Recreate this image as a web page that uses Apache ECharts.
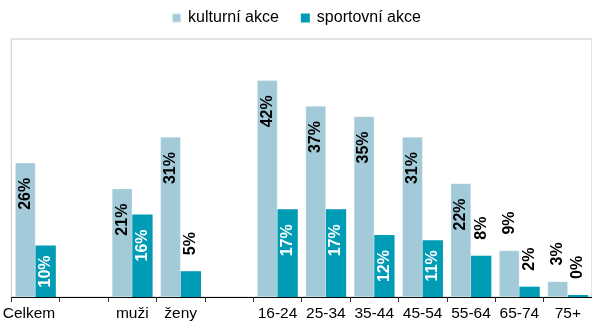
<!DOCTYPE html>
<html>
<head>
<meta charset="utf-8">
<script src="https://cdn.jsdelivr.net/npm/echarts@6/dist/echarts.min.js"></script>
<style>
  html, body { margin: 0; padding: 0; background: #fff; }
  #chart { width: 592px; height: 324px; }
</style>
</head>
<body>
<div id="chart"></div>
<script>
// Categories (empty strings are spacer slots between groups)
const categories = ['Celkem', '', 'muži', 'ženy', '', '16-24', '25-34', '35-44', '45-54', '55-64', '65-74', '75+'];
const seriesNames = ['kulturní akce', 'sportovní akce'];
const kulturni = [26, '-', 21, 31, '-', 42, 37, 35, 31, 22, 9, 3];
const sportovni = [10, '-', 16, 5, '-', 17, 17, 12, 11, 8, 2, 0];

const LIGHT = '#A2CAD8';
const DARK = '#009BB5';
const FONT = 'Liberation Sans, Arial, sans-serif';

// Label placement: short bars get the label above the bar, taller bars inside the top end
function labelFor(v, insideColor) {
  const base = {
    show: true, rotate: 90, fontFamily: FONT, fontWeight: 'bold', fontSize: 16,
    verticalAlign: 'middle', formatter: p => p.value + '%'
  };
  if (v < 10) {
    return Object.assign(base, { position: 'top', align: 'left', distance: 16, color: '#000' });
  }
  return Object.assign(base, {
    position: 'insideTop', align: 'right', distance: v <= 11 ? 10 : 15, color: insideColor
  });
}

function buildData(values, insideColor) {
  return values.map(v => v === '-' ? '-' : { value: v, label: labelFor(v, insideColor) });
}

const chart = echarts.init(document.getElementById('chart'), null, { renderer: 'canvas' });
chart.setOption({
  animation: false,
  legend: {
    top: 5, left: 'center', icon: 'rect', itemWidth: 9, itemHeight: 9, itemGap: 22,
    textStyle: { fontFamily: FONT, fontSize: 16, color: '#000', padding: [0, 0, 0, 2] },
    data: seriesNames
  },
  grid: {
    left: 7, right: -2, top: 39, bottom: 27,
    show: true, borderColor: '#c8c8c8', borderWidth: 1
  },
  xAxis: {
    type: 'category',
    data: categories.map((c, i) => i === 0
      ? { value: c, textStyle: { padding: [0, 13, 0, 0] } }
      : c),
    axisLine: { lineStyle: { color: '#000', width: 1 } },
    axisTick: { show: true, length: 5, lineStyle: { color: '#333' } },
    axisLabel: { fontFamily: FONT, fontSize: 15.5, color: '#000', margin: 9, interval: 0 }
  },
  yAxis: {
    type: 'value', min: 0, max: 50,
    show: false, splitLine: { show: false }
  },
  series: [
    {
      name: seriesNames[0], type: 'bar', barGap: '0%', barCategoryGap: '16%',
      itemStyle: { color: LIGHT, borderColor: 'rgba(255,255,255,0.5)', borderWidth: 0.5 },
      data: buildData(kulturni, '#000')
    },
    {
      name: seriesNames[1], type: 'bar', barMinHeight: 2,
      itemStyle: { color: DARK },
      data: buildData(sportovni, '#fff')
    }
  ]
});
</script>
</body>
</html>
